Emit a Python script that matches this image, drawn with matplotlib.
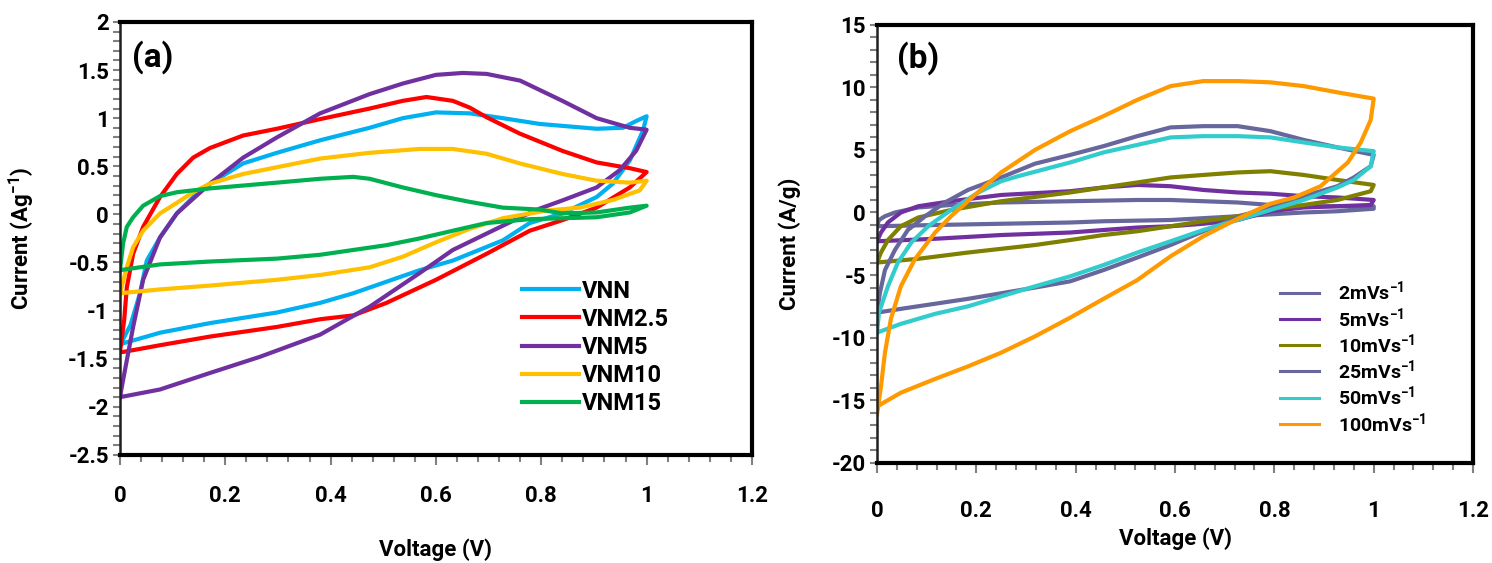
import matplotlib
matplotlib.use("Agg")
import matplotlib.pyplot as plt
from matplotlib.ticker import MultipleLocator

plt.rcParams['font.family'] = ['Roboto', 'DejaVu Sans']
plt.rcParams['font.weight'] = 'bold'
plt.rcParams['mathtext.fontset'] = 'custom'
plt.rcParams['mathtext.rm'] = 'Roboto:bold'
plt.rcParams['mathtext.default'] = 'rm'

# ---- panel (a): CV loops of the samples (voltage V, current A/g) ----
vnn_v = [0, 0.02, 0.038, 0.051, 0.076, 0.108, 0.139, 0.171, 0.234, 0.298, 0.38, 0.474, 0.537, 0.60, 0.664,
         0.727, 0.797, 0.84, 0.905, 0.955, 0.98, 1.0,
         0.993, 0.968, 0.936, 0.905, 0.84, 0.778, 0.727, 0.632, 0.569, 0.506, 0.443, 0.38, 0.298, 0.171,
         0.076, 0.006, 0]
vnn_i = [-1.36, -1.15, -0.82, -0.48, -0.24, 0.01, 0.18, 0.32, 0.53, 0.64, 0.77, 0.90, 1.0, 1.06, 1.05,
         1.0, 0.94, 0.92, 0.89, 0.90, 0.97, 1.02,
         0.87, 0.56, 0.32, 0.18, 0.01, -0.09, -0.27, -0.48, -0.58, -0.70, -0.82, -0.92, -1.02, -1.13,
         -1.23, -1.34, -1.36]

vnm25_v = [0, 0.008, 0.013, 0.025, 0.044, 0.076, 0.108, 0.139, 0.171, 0.234, 0.298, 0.38, 0.474, 0.537,
           0.582, 0.632, 0.664, 0.696, 0.759, 0.84, 0.905, 0.968, 1.0,
           0.968, 0.905, 0.84, 0.778, 0.696, 0.60, 0.506, 0.443, 0.38, 0.298, 0.171, 0.076, 0.006, 0]
vnm25_i = [-1.43, -1.1, -0.76, -0.41, -0.13, 0.18, 0.42, 0.59, 0.69, 0.82, 0.89, 0.99, 1.10, 1.18,
           1.22, 1.18, 1.11, 1.01, 0.84, 0.66, 0.54, 0.48, 0.44,
           0.28, 0.07, -0.06, -0.17, -0.41, -0.68, -0.92, -1.05, -1.09, -1.17, -1.27, -1.36, -1.43, -1.43]

vnm5_v = [0, 0.006, 0.025, 0.044, 0.076, 0.108, 0.171, 0.234, 0.298, 0.38, 0.474, 0.537, 0.60, 0.651,
          0.696, 0.76, 0.84, 0.905, 0.968, 1.0,
          0.98, 0.949, 0.905, 0.84, 0.797, 0.76, 0.696, 0.632, 0.569, 0.474, 0.38, 0.266, 0.17, 0.076, 0]
vnm5_i = [-1.9, -1.72, -1.17, -0.68, -0.24, 0.01, 0.32, 0.59, 0.80, 1.05, 1.25, 1.36, 1.45, 1.47,
          1.46, 1.39, 1.18, 1.0, 0.9, 0.88,
          0.66, 0.46, 0.28, 0.145, 0.06, -0.03, -0.2, -0.37, -0.61, -0.96, -1.25, -1.48, -1.65, -1.82, -1.9]

vnm10_v = [0, 0.013, 0.025, 0.044, 0.076, 0.108, 0.139, 0.171, 0.234, 0.298, 0.38, 0.474, 0.569, 0.632,
           0.696, 0.759, 0.84, 0.905, 0.968, 1.0,
           0.987, 0.936, 0.873, 0.81, 0.727, 0.664, 0.60, 0.537, 0.474, 0.38, 0.298, 0.171, 0.076, 0]
vnm10_i = [-0.82, -0.55, -0.34, -0.17, 0.01, 0.12, 0.23, 0.32, 0.42, 0.49, 0.58, 0.64, 0.68, 0.68,
           0.63, 0.53, 0.42, 0.35, 0.33, 0.35,
           0.25, 0.15, 0.07, 0.04, -0.04, -0.15, -0.29, -0.44, -0.55, -0.63, -0.68, -0.74, -0.78, -0.82]

vnm15_v = [0, 0.006, 0.013, 0.025, 0.044, 0.076, 0.108, 0.171, 0.298, 0.38, 0.443, 0.474, 0.537, 0.60,
           0.664, 0.727, 0.797, 0.84, 0.905, 0.968, 1.0,
           0.968, 0.905, 0.84, 0.778, 0.696, 0.632, 0.569, 0.506, 0.443, 0.38, 0.298, 0.171, 0.076, 0]
vnm15_i = [-0.58, -0.30, -0.13, -0.03, 0.09, 0.19, 0.23, 0.27, 0.33, 0.37, 0.39, 0.37, 0.28, 0.20,
           0.13, 0.07, 0.05, 0.01, 0.02, 0.07, 0.09,
           0.02, -0.03, -0.04, -0.05, -0.09, -0.17, -0.25, -0.32, -0.37, -0.42, -0.46, -0.49, -0.52, -0.58]

# ---- panel (b): scan rate series ----
r2_v = [0, 0.004, 0.016, 0.036, 0.083, 0.149, 0.25, 0.389, 0.524, 0.591, 0.657, 0.726, 0.792, 0.859,
        0.927, 1.0,
        1.0, 0.927, 0.859, 0.726, 0.591, 0.456, 0.389, 0.25, 0.117, 0]
r2_i = [-1.1, -0.6, -0.3, 0.0, 0.4, 0.6, 0.8, 0.9, 1.0, 1.0, 0.9, 0.8, 0.6, 0.5,
        0.5, 0.5,
        0.3, 0.1, 0.0, -0.3, -0.6, -0.7, -0.8, -0.9, -1.0, -1.1]

r5_v = [0, 0.008, 0.022, 0.048, 0.083, 0.149, 0.25, 0.389, 0.456, 0.524, 0.591, 0.657, 0.726, 0.792,
        0.859, 0.927, 1.0,
        0.994, 0.927, 0.859, 0.792, 0.726, 0.657, 0.591, 0.524, 0.456, 0.389, 0.25, 0.117, 0]
r5_i = [-2.3, -1.6, -0.8, 0.0, 0.5, 0.9, 1.4, 1.7, 2.0, 2.2, 2.1, 1.8, 1.6, 1.5,
        1.3, 1.2, 1.0,
        0.6, 0.5, 0.4, 0.1, -0.6, -0.9, -1.1, -1.2, -1.4, -1.6, -1.8, -2.1, -2.3]

r10_v = [0, 0.008, 0.022, 0.048, 0.083, 0.149, 0.25, 0.389, 0.456, 0.524, 0.591, 0.657, 0.726, 0.792,
         0.859, 0.927, 1.0,
         0.994, 0.927, 0.859, 0.792, 0.726, 0.657, 0.591, 0.524, 0.456, 0.389, 0.318, 0.183, 0.083, 0]
r10_i = [-4.0, -3.2, -2.2, -1.1, -0.4, 0.2, 0.9, 1.6, 2.0, 2.4, 2.8, 3.0, 3.2, 3.3,
         3.0, 2.6, 2.2,
         1.7, 1.0, 0.6, 0.3, -0.3, -0.7, -1.1, -1.5, -1.8, -2.2, -2.6, -3.2, -3.7, -4.0]

r25_v = [0, 0.006, 0.016, 0.036, 0.062, 0.097, 0.137, 0.183, 0.25, 0.318, 0.389, 0.456, 0.524, 0.591,
         0.657, 0.726, 0.792, 0.859, 0.927, 1.0,
         0.994, 0.96, 0.927, 0.859, 0.792, 0.726, 0.657, 0.591, 0.524, 0.456, 0.389, 0.318, 0.183,
         0.048, 0]
r25_i = [-8.0, -6.4, -4.6, -3.0, -1.4, -0.3, 0.8, 1.8, 2.8, 3.9, 4.6, 5.3, 6.1, 6.8,
         6.9, 6.9, 6.5, 5.8, 5.2, 4.6,
         3.7, 2.8, 2.1, 1.3, 0.5, -0.4, -1.5, -2.6, -3.6, -4.6, -5.5, -6.0, -6.9,
         -7.7, -8.0]

r50_v = [0, 0.004, 0.022, 0.042, 0.069, 0.103, 0.149, 0.204, 0.25, 0.284, 0.389, 0.456, 0.524, 0.591,
         0.657, 0.726, 0.792, 0.859, 0.927, 1.0,
         0.994, 0.96, 0.927, 0.859, 0.792, 0.726, 0.657, 0.591, 0.524, 0.456, 0.389, 0.318, 0.25,
         0.183, 0.117, 0.048, 0]
r50_i = [-9.6, -8.0, -5.9, -4.0, -2.4, -1.1, 0.2, 1.6, 2.5, 2.9, 4.0, 4.8, 5.4, 6.0,
         6.1, 6.1, 6.0, 5.6, 5.2, 4.9,
         3.7, 2.6, 2.0, 1.0, 0.2, -0.6, -1.4, -2.3, -3.2, -4.2, -5.1, -5.9, -6.7,
         -7.5, -8.1, -8.9, -9.6]

r100_v = [0, 0.008, 0.016, 0.028, 0.048, 0.076, 0.117, 0.149, 0.183, 0.217, 0.25, 0.318, 0.389, 0.456,
          0.524, 0.591, 0.657, 0.726, 0.792, 0.859, 0.927, 1.0,
          0.994, 0.974, 0.948, 0.893, 0.84, 0.792, 0.726, 0.657, 0.591, 0.524, 0.456, 0.389, 0.318,
          0.25, 0.183, 0.117, 0.048, 0, 0]
r100_i = [-16.1, -13.9, -11.2, -8.5, -5.9, -3.75, -1.6, -0.3, 0.9, 2.1, 3.2, 5.0, 6.5, 7.7,
          9.0, 10.1, 10.5, 10.5, 10.4, 10.1, 9.6, 9.1,
          7.4, 5.6, 4.0, 2.1, 1.2, 0.7, -0.5, -1.9, -3.5, -5.4, -6.9, -8.4, -9.9,
          -11.2, -12.3, -13.3, -14.4, -15.5, -16.1]

labels_a = ["VNN", "VNM2.5", "VNM5", "VNM10", "VNM15"]
colors_a = ["#00B0F0", "#FF0000", "#7030A0", "#FFC000", "#00B050"]
labels_b = ["2mVs$^{-1}$", "5mVs$^{-1}$", "10mVs$^{-1}$", "25mVs$^{-1}$", "50mVs$^{-1}$", "100mVs$^{-1}$"]
colors_b = ["#67679E", "#7030A0", "#7F7F00", "#67679E", "#33CCCC", "#FF9900"]

fig = plt.figure(figsize=(14.92, 5.63), dpi=100)
ax1 = fig.add_axes([0.0804, 0.192, 0.4236, 0.769])
ax2 = fig.add_axes([0.5878, 0.178, 0.3995, 0.778])


def style_axes(ax, xpad):
    for side in ["top", "right", "bottom"]:
        ax.spines[side].set_linewidth(3)
        ax.spines[side].set_color("black")
    ax.spines["left"].set_linewidth(1.8)
    ax.spines["left"].set_color("#202020")
    ax.xaxis.set_major_locator(MultipleLocator(0.2))
    ax.xaxis.set_minor_locator(MultipleLocator(0.04))
    ax.tick_params(axis="x", which="major", direction="out", length=7, width=1.5, color="#808080",
                   pad=xpad, labelsize=16)
    ax.tick_params(axis="x", which="minor", direction="out", length=5, width=1.5, color="#808080")
    ax.tick_params(axis="y", which="major", direction="out", length=5, width=1.5, color="#808080",
                   pad=3, labelsize=16)
    ax.tick_params(axis="y", which="minor", direction="out", length=5, width=1.5, color="#808080")
    ax.set_xlim(0, 1.2)
    ax.xaxis.set_major_formatter(plt.FuncFormatter(lambda x, p: f"{x:g}"))
    ax.yaxis.set_major_formatter(plt.FuncFormatter(lambda y, p: f"{y:g}"))


# panel (a)
loops_a = [(vnn_v, vnn_i), (vnm25_v, vnm25_i), (vnm5_v, vnm5_i), (vnm10_v, vnm10_i), (vnm15_v, vnm15_i)]
for (v, i), lab, col in zip(loops_a, labels_a, colors_a):
    ax1.plot(v, i, color=col, lw=3, label=lab, solid_joinstyle="round")
style_axes(ax1, 15)
ax1.set_ylim(-2.5, 2)
ax1.yaxis.set_major_locator(MultipleLocator(0.5))
ax1.yaxis.set_minor_locator(MultipleLocator(0.1))
ax1.set_xlabel("Voltage (V)", fontsize=16, fontweight="bold")
ax1.set_ylabel("Current (Ag$^{-1}$)", fontsize=16, fontweight="bold")
ax1.xaxis.set_label_coords(0.5, -0.192)
ax1.yaxis.set_label_coords(-0.131, 0.5)
ax1.text(0.019, 0.92, "(a)", transform=ax1.transAxes, fontsize=24, fontweight="bold",
         ha="left", va="center")
ax1.legend(loc="upper left", bbox_to_anchor=(0.636, 0.405), frameon=False, fontsize=17,
           handlelength=2.4, handletextpad=0.15, labelspacing=0.22, borderpad=0, borderaxespad=0)

# panel (b)
loops_b = [(r2_v, r2_i), (r5_v, r5_i), (r10_v, r10_i), (r25_v, r25_i), (r50_v, r50_i), (r100_v, r100_i)]
for (v, i), lab, col in zip(loops_b, labels_b, colors_b):
    ax2.plot(v, i, color=col, lw=3, label=lab, solid_joinstyle="round")
style_axes(ax2, 20)
ax2.set_ylim(-20, 15)
ax2.yaxis.set_major_locator(MultipleLocator(5))
ax2.yaxis.set_minor_locator(MultipleLocator(1))
ax2.set_xlabel("Voltage (V)", fontsize=16, fontweight="bold")
ax2.set_ylabel("Current (A/g)", fontsize=16, fontweight="bold")
ax2.xaxis.set_label_coords(0.5, -0.148)
ax2.yaxis.set_label_coords(-0.128, 0.5)
ax2.text(0.034, 0.925, "(b)", transform=ax2.transAxes, fontsize=24, fontweight="bold",
         ha="left", va="center")
leg = ax2.legend(loc="upper left", bbox_to_anchor=(0.676, 0.418), frameon=False, fontsize=14,
                 handlelength=2.0, handletextpad=1.0, labelspacing=0.12, borderpad=0, borderaxespad=0)
for line in leg.get_lines():
    line.set_linewidth(2.2)

fig.savefig("out.png", dpi=100)
